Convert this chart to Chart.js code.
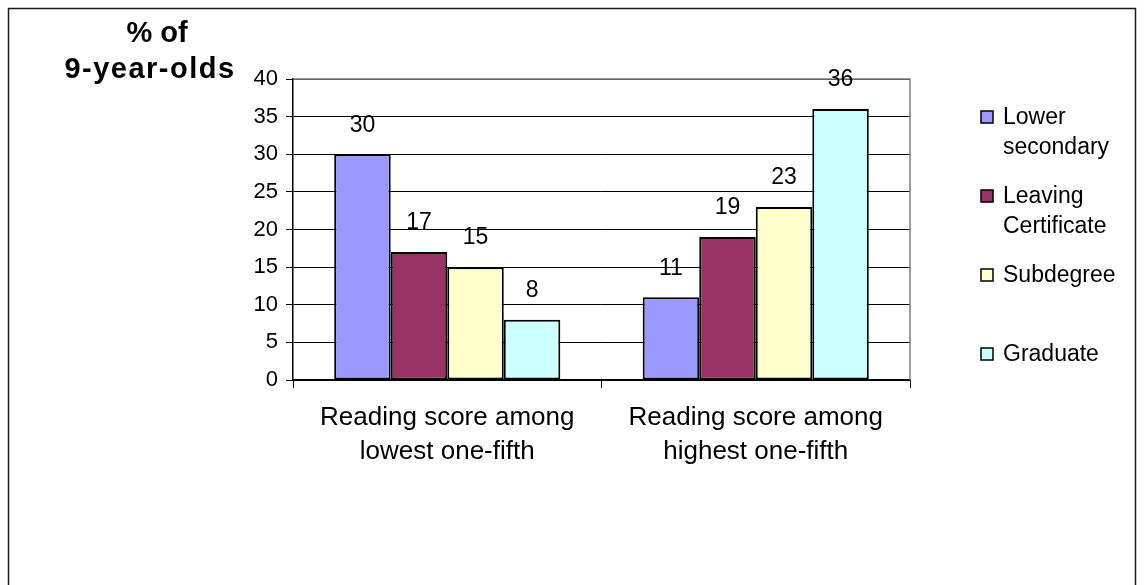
<!DOCTYPE html>
<html>
<head>
<meta charset="utf-8">
<script src="https://cdn.jsdelivr.net/npm/chart.js@4/dist/chart.umd.min.js"></script>
<style>
  html, body { margin: 0; padding: 0; background: #fff; }
  canvas { display: block; }
</style>
</head>
<body>
<canvas id="c" width="1144" height="585"></canvas>
<script>
// Categories (two-line axis labels)
const categories = [
  ['Reading score among', 'lowest one-fifth'],
  ['Reading score among', 'highest one-fifth']
];
// Series names, and how they wrap in the legend
const seriesNames = ['Lower secondary', 'Leaving Certificate', 'Subdegree', 'Graduate'];
const legendLines = [['Lower', 'secondary'], ['Leaving', 'Certificate'], ['Subdegree'], ['Graduate']];
// Values (% of 9-year-olds)
const lowerSecondary = [30, 11];
const leavingCertificate = [17, 19];
const subdegree = [15, 23];
const graduate = [8, 36];
// Value axis
const yMin = 0, yMax = 40, yStep = 5;
const yTitle = ['% of', '9-year-olds'];

const palette = ['#9999FF', '#993366', '#FFFFCC', '#CCFFFF'];
const FONT = "'Liberation Sans', Arial, Helvetica, sans-serif";

const seriesValues = [lowerSecondary, leavingCertificate, subdegree, graduate];

// Outer frame
const framePlugin = {
  id: 'frame',
  beforeDraw(chart) {
    const c = chart.ctx;
    c.save();
    c.fillStyle = '#fff';
    c.fillRect(0, 0, chart.width, chart.height);
    c.strokeStyle = '#1a1a1a';
    c.lineWidth = 1.5;
    c.beginPath();
    c.moveTo(8.5, chart.height + 2);
    c.lineTo(8.5, 8.5);
    c.lineTo(1135.5, 8.5);
    c.lineTo(1135.5, chart.height + 2);
    c.stroke();
    c.restore();
  }
};

// Grey plot-area border on top and right
const plotBorderPlugin = {
  id: 'plotBorder',
  beforeDatasetsDraw(chart) {
    const a = chart.chartArea, c = chart.ctx;
    c.save();
    c.strokeStyle = '#808080';
    c.lineWidth = 1.5;
    c.beginPath();
    c.moveTo(a.left + 1, a.top);
    c.lineTo(a.right, a.top);
    c.lineTo(a.right, a.bottom);
    c.stroke();
    c.restore();
  }
};

// Value labels above each bar
const valueLabelPlugin = {
  id: 'valueLabels',
  afterDatasetsDraw(chart) {
    const c = chart.ctx;
    c.save();
    c.font = '23px ' + FONT;
    c.fillStyle = '#000';
    c.textAlign = 'center';
    c.textBaseline = 'middle';
    chart.data.datasets.forEach((ds, i) => {
      chart.getDatasetMeta(i).data.forEach((bar, j) => {
        c.fillText(String(ds.data[j]), bar.x, bar.y - 29);
      });
    });
    c.restore();
  }
};

// Axis title at top-left and legend on the right
const annotationsPlugin = {
  id: 'annotations',
  afterDraw(chart) {
    const c = chart.ctx;
    c.save();
    c.fillStyle = '#000';
    c.textAlign = 'center';
    c.textBaseline = 'alphabetic';
    c.font = 'bold 29px ' + FONT;
    c.fillText(yTitle[0], 157, 42);
    if ('letterSpacing' in c) c.letterSpacing = '1.5px';
    c.fillText(yTitle[1], 150, 78);
    if ('letterSpacing' in c) c.letterSpacing = '0px';

    c.font = '23px ' + FONT;
    c.textAlign = 'left';
    legendLines.forEach((lines, i) => {
      const base = 124 + i * 79;
      c.fillStyle = palette[i];
      c.fillRect(981, base - 13, 12, 12);
      c.strokeStyle = '#000';
      c.lineWidth = 1.5;
      c.strokeRect(981, base - 13, 12, 12);
      c.fillStyle = '#000';
      lines.forEach((t, k) => c.fillText(t, 1003, base + k * 30));
    });
    c.restore();
  }
};

new Chart(document.getElementById('c'), {
  type: 'bar',
  data: {
    labels: categories,
    datasets: seriesNames.map((name, i) => ({
      label: name,
      data: seriesValues[i],
      backgroundColor: palette[i],
      borderColor: '#000',
      borderWidth: 2,
      borderSkipped: false,
      categoryPercentage: 0.733,
      barPercentage: 1.0
    }))
  },
  options: {
    responsive: false,
    devicePixelRatio: 1,
    animation: false,
    layout: { padding: { top: 79, right: 234, left: 0, bottom: 0 } },
    plugins: {
      legend: { display: false },
      title: { display: false },
      tooltip: { enabled: false }
    },
    scales: {
      x: {
        grid: { display: true, drawOnChartArea: false, tickLength: 8, color: '#000', offset: true },
        border: { color: '#000', width: 1.5 },
        ticks: {
          color: '#000', padding: 13, maxRotation: 0, autoSkip: false,
          font: { family: FONT, size: 26, lineHeight: 1.31 }
        },
        afterFit(s) { s.height = 205; }
      },
      y: {
        min: yMin, max: yMax,
        grid: { color: '#000', lineWidth: 1, tickLength: 7 },
        border: { color: '#000', width: 1.5 },
        ticks: {
          stepSize: yStep, color: '#000', padding: 8,
          font: { family: FONT, size: 22 }
        },
        afterFit(s) { s.width = 293; }
      }
    }
  },
  plugins: [framePlugin, plotBorderPlugin, valueLabelPlugin, annotationsPlugin]
});
</script>
</body>
</html>
